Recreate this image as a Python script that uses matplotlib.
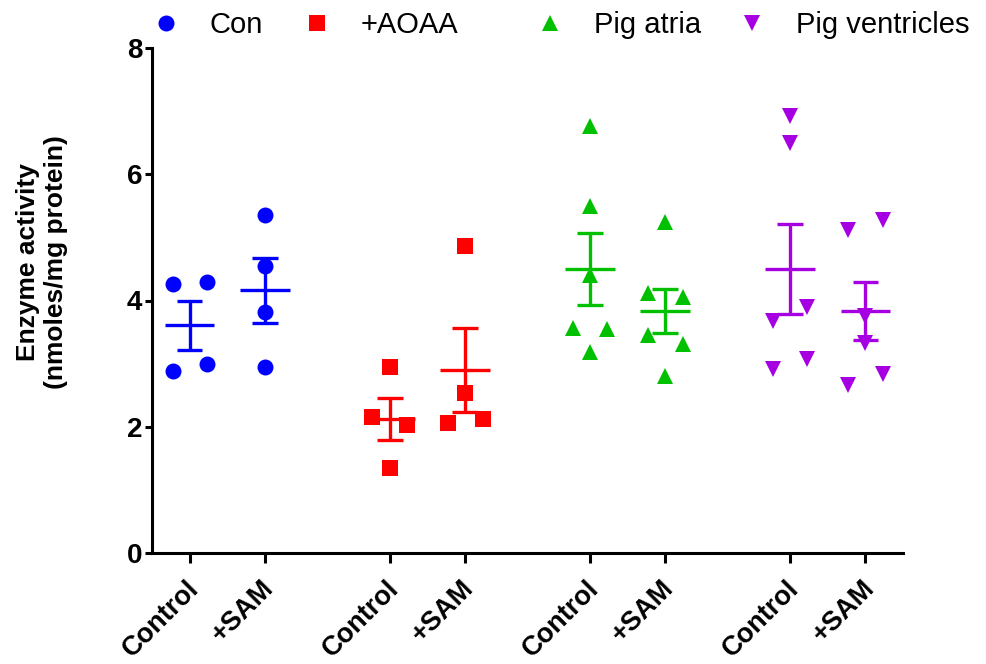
import numpy as np
import matplotlib
matplotlib.use("Agg")
import matplotlib.pyplot as plt
import matplotlib.transforms as mtransforms
from matplotlib.lines import Line2D

plt.rcParams['font.family'] = ['Liberation Sans', 'DejaVu Sans']

# ---- data ----
series_names = ["Con", "+AOAA", "Pig atria", "Pig ventricles"]
conditions = ["Control", "+SAM"]
con_control = [4.26, 4.29, 2.88, 3.00]
con_sam = [5.35, 4.55, 3.81, 2.94]
aoaa_control = [2.95, 2.16, 2.02, 1.34]
aoaa_sam = [4.87, 2.53, 2.06, 2.13]
atria_control = [6.76, 5.50, 4.41, 3.57, 3.55, 3.19]
atria_sam = [5.25, 4.12, 4.06, 3.45, 3.31, 2.81]
vent_control = [6.92, 6.49, 3.68, 3.89, 2.92, 3.08]
vent_sam = [5.11, 5.28, 3.76, 3.32, 2.66, 2.84]

# horizontal scatter offsets (layout)
off_con_control = [-0.22, 0.23, -0.22, 0.23]
off_con_sam = [0.0, 0.0, 0.0, 0.0]
off_aoaa_control = [0.0, -0.23, 0.23, 0.0]
off_aoaa_sam = [0.0, 0.0, -0.23, 0.24]
off_atria_control = [0.0, 0.0, 0.0, -0.23, 0.23, 0.0]
off_atria_sam = [0.0, -0.23, 0.23, -0.23, 0.23, 0.0]
off_vent_control = [0.0, 0.0, -0.23, 0.23, -0.23, 0.23]
off_vent_sam = [-0.23, 0.23, 0.0, 0.0, -0.23, 0.23]

groups = [
    (con_control, off_con_control, con_sam, off_con_sam),
    (aoaa_control, off_aoaa_control, aoaa_sam, off_aoaa_sam),
    (atria_control, off_atria_control, atria_sam, off_atria_sam),
    (vent_control, off_vent_control, vent_sam, off_vent_sam),
]
colors = ["#0000FF", "#FF0000", "#00C000", "#A600E2"]
markers = ["o", "s", "^", "v"]

W, H = 987, 664
fig = plt.figure(figsize=(W / 100, H / 100), dpi=100)
ax = fig.add_axes([152 / W, 1 - 553 / H, (903 - 152) / W, (553 - 48) / H])

gap = 2.66
positions = []
labels = []
for gi, (c_vals, c_off, s_vals, s_off) in enumerate(groups):
    col = colors[gi]
    mk = markers[gi]
    for k, (vals, offs) in enumerate([(c_vals, c_off), (s_vals, s_off)]):
        x0 = gi * gap + k
        positions.append(x0)
        labels.append(conditions[k])
        vals = np.array(vals)
        xs = x0 + np.array(offs)
        ax.plot(xs, vals, linestyle='none', marker=mk, markersize=11.5,
                color=col, markeredgewidth=0, zorder=3)
        m = vals.mean()
        sem = vals.std(ddof=1) / np.sqrt(len(vals))
        lw = 2.4
        ax.plot([x0 - 0.33, x0 + 0.33], [m, m], color=col, lw=lw,
                solid_capstyle='butt', zorder=4)
        ax.plot([x0, x0], [m - sem, m + sem], color=col, lw=lw,
                solid_capstyle='butt', zorder=4)
        for yy in (m - sem, m + sem):
            ax.plot([x0 - 0.17, x0 + 0.17], [yy, yy], color=col, lw=lw,
                    solid_capstyle='butt', zorder=4)

ax.set_xlim(-0.5, 3 * gap + 1 + 0.5)
ax.set_ylim(0, 8)
ax.set_yticks([0, 2, 4, 6, 8])
ax.set_yticklabels(["0", "2", "4", "6", "8"], fontsize=20, fontweight='bold')
ax.set_xticks(positions)
ax.set_xticklabels(labels, fontsize=19.5, fontweight='bold', rotation=45,
                   ha='right', va='center', rotation_mode='anchor')
ax.tick_params(axis='y', length=5, width=2.2, pad=2)
ax.tick_params(axis='x', length=7.5, width=2.2, pad=13)
offset = mtransforms.ScaledTranslation(5 / 100, -3 / 100, fig.dpi_scale_trans)
for lab in ax.get_xticklabels():
    lab.set_transform(lab.get_transform() + offset)

for s in ['top', 'right']:
    ax.spines[s].set_visible(False)
for s in ['left', 'bottom']:
    ax.spines[s].set_linewidth(2.2)

fig.text(42 / W, 1 - 262 / H, "Enzyme activity\n(nmoles/mg protein)",
         rotation=90, ha='center', va='center', fontsize=19,
         fontweight='bold', linespacing=1.25, multialignment='center')

# legends: one per series, positioned individually
marker_x = [166, 317, 550, 752]
fs_leg = 21
for i, name in enumerate(series_names):
    h = Line2D([], [], linestyle='none', marker=markers[i], markersize=11.5,
               color=colors[i], markeredgewidth=0)
    handlelength = 1.0
    fs_px = fs_leg * 100 / 72
    left_px = marker_x[i] - 0.5 * handlelength * fs_px
    gap_px = 44 - 0.5 * handlelength * fs_px
    leg = fig.legend([h], [name], loc='center left',
                     bbox_to_anchor=(left_px / W, 1 - 25 / H),
                     frameon=False, fontsize=fs_leg, handlelength=handlelength,
                     handletextpad=gap_px / fs_px, borderpad=0, borderaxespad=0,
                     numpoints=1)

fig.savefig("out.png", dpi=100)
